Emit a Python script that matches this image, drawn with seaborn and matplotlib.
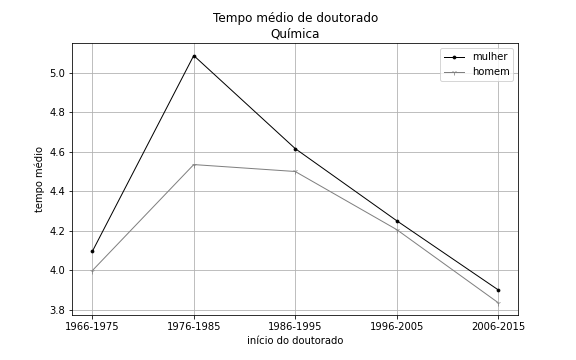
import pandas as pd
import seaborn as sns
import matplotlib.pyplot as plt

periodos = ['1966-1975', '1976-1985', '1986-1995', '1996-2005', '2006-2015']
mulher = [4.094, 5.086, 4.615, 4.25, 3.90]
homem = [3.997, 4.534, 4.499, 4.205, 3.835]

df = pd.DataFrame({'periodo': periodos, 'mulher': mulher, 'homem': homem})

fig, ax = plt.subplots(figsize=(8, 5), dpi=72)
fig.subplots_adjust(left=0.125, right=0.9, top=0.88, bottom=0.125)
sns.lineplot(data=df, x='periodo', y='mulher', color='black', marker='.',
             markersize=6, markeredgecolor='black', linewidth=1, sort=False,
             label='mulher', ax=ax)
sns.lineplot(data=df, x='periodo', y='homem', color='grey', marker='1',
             markersize=6, markeredgecolor='grey', linewidth=1, sort=False,
             label='homem', ax=ax)
ax.grid(True, color='#b0b0b0', linewidth=0.8)
ax.set_axisbelow(True)
ax.set_title('Tempo médio de doutorado\nQuímica', fontsize=12)
ax.set_xlabel('início do doutorado')
ax.set_ylabel('tempo médio')
ax.legend(loc='upper right')
plt.savefig('out.png')
